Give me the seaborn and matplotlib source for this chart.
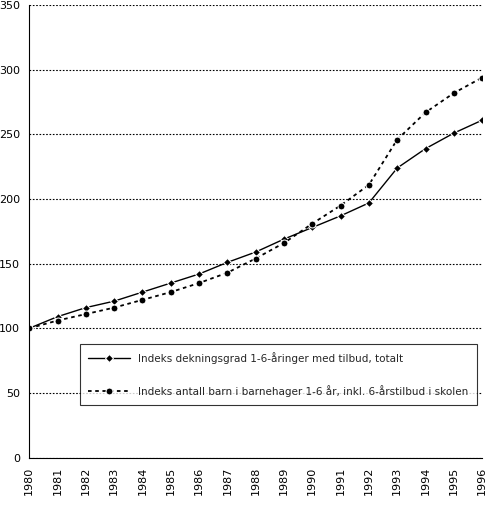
import matplotlib
matplotlib.use("Agg")
import matplotlib.pyplot as plt
import seaborn as sns
import pandas as pd

years = list(range(1980, 1997))
dekningsgrad = [100, 109, 116, 121, 128, 135, 142, 151, 159, 169, 178, 187, 197, 224, 239, 251, 261]
antall_barn = [100, 106, 111, 116, 122, 128, 135, 143, 154, 166, 181, 195, 211, 246, 267, 282, 294]

label1 = "Indeks dekningsgrad 1-6-åringer med tilbud, totalt"
label2 = "Indeks antall barn i barnehager 1-6 år, inkl. 6-årstilbud i skolen"

df = pd.DataFrame({"year": years, "d": dekningsgrad, "a": antall_barn})

sns.set_style("white")
plt.rcParams["font.family"] = ["DejaVu Sans"]
fig, ax = plt.subplots(figsize=(4.87, 5.17), dpi=100)

sns.lineplot(data=df, x="year", y="d", ax=ax, color="black", lw=1,
             marker="D", markersize=4, label=label1)
sns.lineplot(data=df, x="year", y="a", ax=ax, color="black", lw=1.3,
             linestyle=(0, (2, 2)), marker="o", markersize=5, label=label2)

ax.set_xlim(1980, 1996)
ax.set_ylim(0, 350)
ax.set_yticks(range(0, 351, 50))
ax.set_xticks(years)
ax.set_xticklabels([str(y) for y in years], rotation=90)
ax.tick_params(labelsize=8, length=3, direction="out", labelcolor="black")
ax.yaxis.grid(True, color="black", linestyle=(0, (1.5, 1.5)), lw=0.8)
ax.set_xlabel("")
ax.set_ylabel("")
for s in ["right", "top"]:
    ax.spines[s].set_visible(False)
for s in ["left", "bottom"]:
    ax.spines[s].set_color("black")
    ax.spines[s].set_linewidth(0.8)

leg = ax.legend(loc="lower right", bbox_to_anchor=(1.0, 0.105), fontsize=7.5,
                frameon=True, fancybox=False, edgecolor="black",
                labelspacing=2.0, handlelength=4, borderpad=0.8)
leg.get_frame().set_linewidth(0.8)

fig.subplots_adjust(left=0.06, right=0.99, top=0.99, bottom=0.115)
fig.savefig("out.png", dpi=100)
